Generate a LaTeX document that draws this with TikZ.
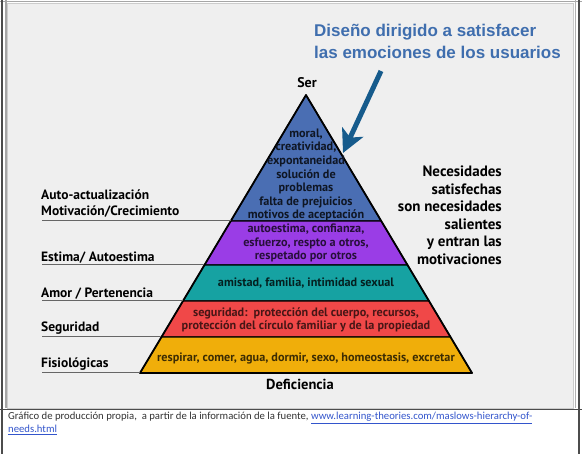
\documentclass[tikz,border=0pt]{standalone}
\usepackage{fontspec}
\setmainfont{PT Sans}
\newfontfamily\titulofont{Liberation Sans}
\newfontfamily\notafont{Carlito}
\usetikzlibrary{calc,arrows.meta}
\definecolor{fondo}{HTML}{EFEFEF}
\definecolor{azulcapa}{HTML}{4A6EB3}
\definecolor{moradocapa}{HTML}{9A3DE6}
\definecolor{verdecapa}{HTML}{16A2A2}
\definecolor{rojocapa}{HTML}{F04848}
\definecolor{amarillocapa}{HTML}{F0AE0A}
\definecolor{azultitulo}{HTML}{3F6EAE}
\definecolor{azulflecha}{HTML}{165B8C}
\definecolor{enlace}{HTML}{3355CC}
\tikzset{
  capa/.style={draw=black, line width=1.1pt, line join=round},
  txtcapa/.style={font=\fontsize{12.2}{13.6}\selectfont\bfseries, align=center, inner sep=0pt},
  etiqueta/.style={font=\fontsize{13.5}{15}\selectfont\bfseries, anchor=base west, inner sep=0pt, align=left},
  linea/.style={draw=black!60, line width=1pt}
}
\begin{document}
\begin{tikzpicture}[x=1pt, y=-1pt]
    \useasboundingbox (0,0) rectangle (582,454);
    % Marco
    \fill[white] (0,0) rectangle (582,454);
    \fill[fondo, draw=black!20] (7,3) rectangle (573,408);
    \draw[black!35, line width=0.8pt] (0,1) -- (582,1);
    \draw[black!35, line width=1.2pt] (6,0) -- (6,408);
    \draw[black!30, line width=1pt] (575,0) -- (575,408);
    \draw[black!70, line width=1.8pt] (2,0) -- (2,454);
    \draw[black!70, line width=1.8pt] (579,0) -- (579,454);
    \draw[black!70, line width=1pt] (0,410) -- (582,410);
    % Piramide
    \coordinate (cima) at (306,95);
    \coordinate (base-izq) at (140,373);
    \coordinate (base-der) at (472,373);
    \coordinate (margen) at (42,0);
    \foreach \n/\t in {1/0.4532, 2/0.6115, 3/0.7410, 4/0.8705} {
        \coordinate (i\n) at ($(cima)!\t!(base-izq)$);
        \coordinate (d\n) at ($(cima)!\t!(base-der)$);
    }
    \filldraw[capa, fill=azulcapa] (cima) -- (d1) -- (i1) -- cycle;
    \filldraw[capa, fill=moradocapa] (i1) -- (d1) -- (d2) -- (i2) -- cycle;
    \filldraw[capa, fill=verdecapa] (i2) -- (d2) -- (d3) -- (i3) -- cycle;
    \filldraw[capa, fill=rojocapa] (i3) -- (d3) -- (d4) -- (i4) -- cycle;
    \filldraw[capa, fill=amarillocapa] (i4) -- (d4) -- (base-der) -- (base-izq) -- cycle;
    \draw[black, line width=1.8pt, line join=round] (cima) -- (base-der) -- (base-izq) -- cycle;
    % Textos de las capas
    \node[txtcapa, text=azulcapa!20!black] (t-azul) at (306,175)
        {moral,\\creatividad,\\expontaneidad\\solución de\\problemas\\falta de prejuicios\\motivos de aceptación};
    \node[txtcapa, text=moradocapa!25!black] (t-morado) at (306,243)
        {autoestima, confianza,\\esfuerzo, respto a otros,\\respetado por otros};
    \node[txtcapa, text=verdecapa!20!black] (t-verde) at (306,283)
        {amistad, familia, intimidad sexual};
    \node[txtcapa, text=rojocapa!30!black] (t-rojo) at (306,320)
        {seguridad:\ \ protección del cuerpo, recursos,\\protección del círculo familiar y de la propiedad};
    \node[txtcapa, text=amarillocapa!25!black] (t-amarillo) at (306,358)
        {respirar, comer, agua, dormir, sexo, homeostasis, excretar};
    % Extremos
    \node[font=\fontsize{14}{16}\selectfont\bfseries] (ser) at (307,83) {Ser};
    \node[font=\fontsize{14.5}{16}\selectfont\bfseries] (deficiencia) at (300,384) {Deficiencia};
    % Etiquetas de la izquierda
    \node[etiqueta] (n-auto) at (41,200) {Auto-actualización};
    \node[etiqueta] (n-motiv) at (41,216) {Motivación/Crecimiento};
    \node[etiqueta] (n-estima) at (41,262) {Estima/ Autoestima};
    \node[etiqueta] (n-amor) at (41,298) {Amor / Pertenencia};
    \node[etiqueta] (n-seguridad) at (41,332) {Seguridad};
    \node[etiqueta] (n-fisio) at (41,368) {Fisiológicas};
    \draw[linea] (i1 -| margen) -- (i1);
    \draw[linea] (i2 -| margen) -- (i2);
    \draw[linea] (i3 -| margen) -- (i3);
    \draw[linea] (i4 -| margen) -- (i4);
    \draw[linea] (base-izq -| margen) -- (base-izq);
    % Texto de la derecha
    \node[font=\fontsize{15}{17.5}\selectfont\bfseries, align=right, anchor=north east, inner sep=0pt] (necesidades) at (502,166)
        {Necesidades\\satisfechas\\son necesidades\\salientes\\y entran las\\motivaciones};
    % Titulo y flecha
    \node[font=\titulofont\bfseries\fontsize{17}{22}\selectfont, text=azultitulo, align=left, anchor=north west, inner sep=0pt] (titulo) at (314,24)
        {Diseño dirigido a satisfacer\\las emociones de los usuarios};
    \coordinate (flecha-ini) at (381,71);
    \coordinate (flecha-fin) at (343,153);
    \draw[azulflecha, line width=5pt, -{Stealth[length=23pt, width=23pt, inset=6pt]}] (flecha-ini) -- (flecha-fin);
    % Nota
    \node[font=\notafont\fontsize{10.7}{13}\selectfont, text=black!80, align=left, anchor=north west, inner sep=0pt] (nota) at (8,412)
        {Gráfico de producción propia,\ \ a partir de la información de la fuente, \textcolor{enlace}{\underline{www.learning-theories.com/maslows-hierarchy-of-}}\\\textcolor{enlace}{\underline{needs.html}}};
\end{tikzpicture}
\end{document}
